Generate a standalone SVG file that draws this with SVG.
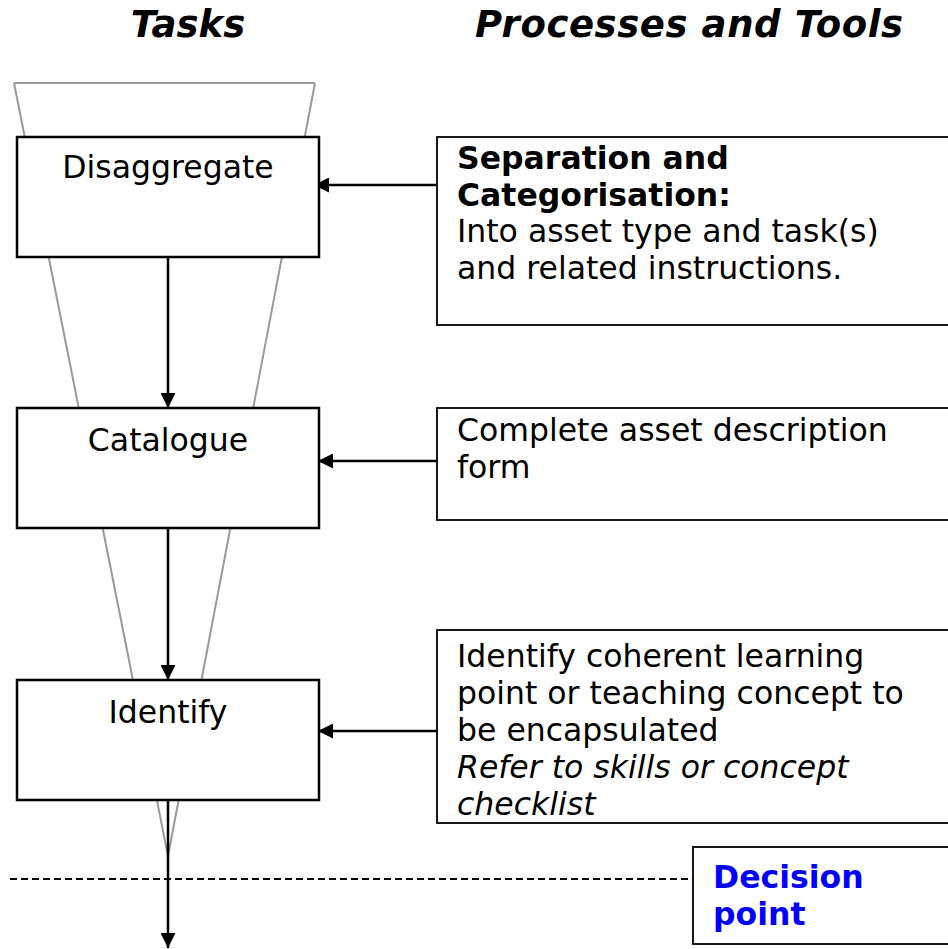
<svg xmlns="http://www.w3.org/2000/svg" width="948" height="949" viewBox="0 0 948 949">
  <style>
    .title { font-family: "DejaVu Sans", Verdana, sans-serif; font-size: 37px; font-weight: bold; font-style: oblique; fill: #000; }
    .task rect { fill: #fff; stroke: #000; stroke-width: 2.5; }
    .proc rect { fill: #fff; stroke: #000; stroke-width: 1.8; }
    .label { font-family: "DejaVu Sans", Verdana, sans-serif; font-size: 31.5px; fill: #000; }
    .bold { font-weight: bold; }
    .it { font-style: oblique; }
    .decision { font-family: "DejaVu Sans", Verdana, sans-serif; font-size: 31.5px; font-weight: bold; fill: #0000ff; }
    .funnel { fill: none; stroke: #999; stroke-width: 2; }
    .conn { fill: none; stroke: #000; stroke-width: 2.5; }
    .dash { fill: none; stroke: #000; stroke-width: 2; stroke-dasharray: 7 4; }
  </style>
  <defs>
    <marker id="arrow" viewBox="0 0 15 15" refX="15" refY="7.5" markerWidth="15" markerHeight="15" markerUnits="userSpaceOnUse" orient="auto">
      <path d="M0,0 L15,7.5 L0,15 Z" fill="#000"/>
    </marker>
  </defs>

  <rect width="948" height="949" fill="#fff"/>

  <!-- column headings -->
  <text class="title" x="188" y="37" text-anchor="middle">Tasks</text>
  <text class="title" x="475" y="37" textLength="428" lengthAdjust="spacing">Processes and Tools</text>

  <!-- narrowing funnel behind the task boxes -->
  <g id="funnel">
    <path class="funnel" d="M14,83 L315,83 M14,83 L168,856 M315,83 L168,856"/>
  </g>

  <!-- connectors -->
  <g id="connectors">
    <line class="conn" x1="168" y1="257" x2="168" y2="408" marker-end="url(#arrow)"/>
    <line class="conn" x1="168" y1="528" x2="168" y2="680" marker-end="url(#arrow)"/>
    <line class="conn" x1="168" y1="800" x2="168" y2="948" marker-end="url(#arrow)"/>
    <line class="conn" x1="436" y1="185" x2="314" y2="185" marker-end="url(#arrow)"/>
    <line class="conn" x1="437" y1="461" x2="318" y2="461" marker-end="url(#arrow)"/>
    <line class="conn" x1="437" y1="731" x2="318" y2="731" marker-end="url(#arrow)"/>
    <line class="dash" x1="10" y1="879" x2="693" y2="879"/>
  </g>

  <!-- task boxes -->
  <g id="disaggregate" class="task">
    <rect x="17" y="137" width="302" height="120"/>
    <text class="label" x="168" y="178" text-anchor="middle">Disaggregate</text>
  </g>
  <g id="catalogue" class="task">
    <rect x="17" y="408" width="302" height="120"/>
    <text class="label" x="168" y="451" text-anchor="middle">Catalogue</text>
  </g>
  <g id="identify" class="task">
    <rect x="17" y="680" width="302" height="120"/>
    <text class="label" x="168" y="723" text-anchor="middle">Identify</text>
  </g>

  <!-- process / tool boxes -->
  <g id="separation" class="proc">
    <rect x="437" y="137" width="520" height="188"/>
    <text class="label" x="457" y="169"><tspan class="bold">Separation and</tspan><tspan class="bold" x="457" y="206">Categorisation:</tspan><tspan x="457" y="242">Into asset type and task(s)</tspan><tspan x="457" y="279">and related instructions.</tspan></text>
  </g>
  <g id="asset-description" class="proc">
    <rect x="437" y="408" width="520" height="112"/>
    <text class="label" x="457" y="441">Complete asset description<tspan x="457" y="478">form</tspan></text>
  </g>
  <g id="learning-point" class="proc">
    <rect x="437" y="630" width="520" height="193"/>
    <text class="label" x="457" y="667">Identify coherent learning<tspan x="457" y="704">point or teaching concept to</tspan><tspan x="457" y="741">be encapsulated</tspan><tspan class="it" x="457" y="778">Refer to skills or concept</tspan><tspan class="it" x="457" y="815">checklist</tspan></text>
  </g>
  <g id="decision-point" class="proc">
    <rect x="693" y="847" width="264" height="97"/>
    <text class="decision" x="713" y="888">Decision<tspan x="713" y="925">point</tspan></text>
  </g>
</svg>
